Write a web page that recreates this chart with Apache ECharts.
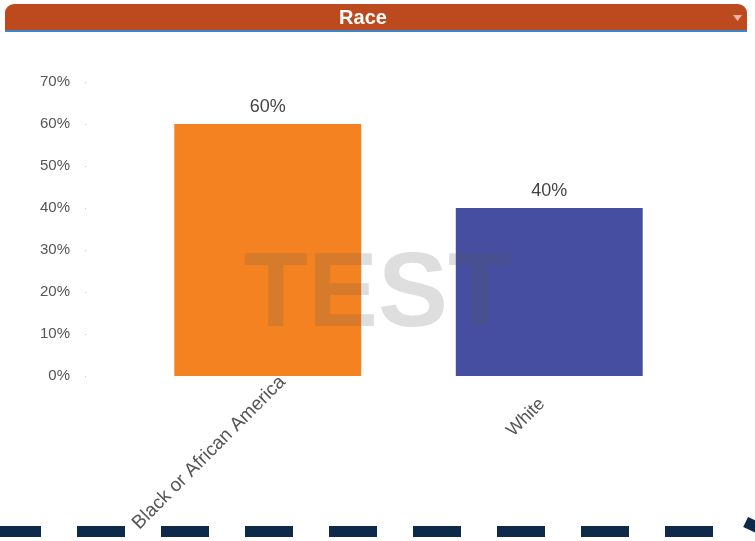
<!DOCTYPE html>
<html>
<head>
<meta charset="utf-8">
<title>Race</title>
<script src="https://cdn.jsdelivr.net/npm/echarts@6/dist/echarts.min.js"></script>
<style>
  html, body { margin: 0; padding: 0; background: #ffffff; }
  #chart { width: 755px; height: 541px; }
</style>
</head>
<body>
<div id="chart"></div>
<script>
// Race breakdown, share of total in percent
const categories = ['Black or African American', 'White'];
const shares = [60, 40];
const barColors = ['#f58220', '#454ea1'];
const yTicks = { min: 0, max: 70, step: 10 };

const FONT = '"Liberation Sans", Arial, sans-serif';

const chart = echarts.init(document.getElementById('chart'), null, { renderer: 'canvas' });

chart.setOption({
  animation: false,
  backgroundColor: '#ffffff',
  grid: {
    left: 127, right: 65, top: 82, bottom: 165,
    containLabel: false,
    outerBoundsMode: 'none'
  },
  xAxis: {
    type: 'category',
    data: categories,
    axisLine: { show: false },
    axisTick: { show: false },
    axisLabel: {
      rotate: 45,
      margin: 18,
      color: '#555555',
      fontFamily: FONT,
      fontSize: 19,
      width: 193,
      overflow: 'truncate',
      ellipsis: '',
      interval: 0,
      // long names slide up the slope, short ones down
      formatter: (value) => value.length < 12 ? '{s|' + value + '}' : '{l|' + value + '}',
      rich: {
        s: { fontSize: 18, fontFamily: FONT, color: '#555555', padding: [0, 10, 0, 0] },
        l: { fontSize: 19, fontFamily: FONT, color: '#555555', padding: [0, -21, 0, 0] }
      }
    }
  },
  yAxis: {
    type: 'value',
    min: yTicks.min,
    max: yTicks.max,
    interval: yTicks.step,
    offset: 41,
    axisLine: { show: false },
    axisTick: { show: true, length: 1, lineStyle: { color: '#c8c8c8', width: 1 } },
    splitLine: { show: false },
    axisLabel: {
      margin: 16,
      color: '#555555',
      fontFamily: FONT,
      fontSize: 15,
      formatter: '{value}%'
    }
  },
  series: [{
    type: 'bar',
    barWidth: '66.4%',
    data: shares.map((v, i) => ({ value: v, itemStyle: { color: barColors[i] } })),
    label: {
      show: true,
      position: 'top',
      distance: 8,
      color: '#444444',
      fontFamily: FONT,
      fontSize: 18,
      formatter: '{c}%'
    }
  }],
  graphic: [
    // header strip
    {
      type: 'rect', z: 10,
      shape: { x: 5, y: 4, width: 742, height: 27, r: [9, 9, 0, 0] },
      style: { fill: '#bd491e' }
    },
    {
      type: 'rect', z: 11,
      shape: { x: 5, y: 30, width: 742, height: 2 },
      style: { fill: '#3b86cc' }
    },
    {
      type: 'text', z: 12,
      style: {
        text: 'Race', x: 363, y: 18,
        align: 'center', verticalAlign: 'middle',
        fill: '#ffffff', font: 'bold 20px ' + FONT
      }
    },
    {
      type: 'polygon', z: 12,
      shape: { points: [[733, 15], [742, 15], [737.5, 21]] },
      style: { fill: '#eab3a4' }
    },
    // watermark over the plot
    {
      type: 'text', z: 100,
      style: {
        text: 'TEST', x: 378, y: 297,
        align: 'center', verticalAlign: 'middle',
        fill: 'rgba(90,90,90,0.2)', font: 'bold 105px ' + FONT,
        shadowBlur: 3, shadowColor: 'rgba(90,90,90,0.15)'
      }
    },
    // dashed rule along the bottom edge
    {
      type: 'line', z: 50,
      shape: { x1: -7, y1: 531.5, x2: 720, y2: 531.5 },
      style: { stroke: '#0d2a4a', lineWidth: 11, lineDash: [48, 36], lineCap: 'butt' }
    },
    {
      type: 'rect', z: 50,
      shape: { x: 0, y: 0, width: 14, height: 11 },
      x: 748, y: 517, rotation: -Math.PI / 7,
      style: { fill: '#0d2a4a' }
    }
  ]
});
</script>
</body>
</html>
